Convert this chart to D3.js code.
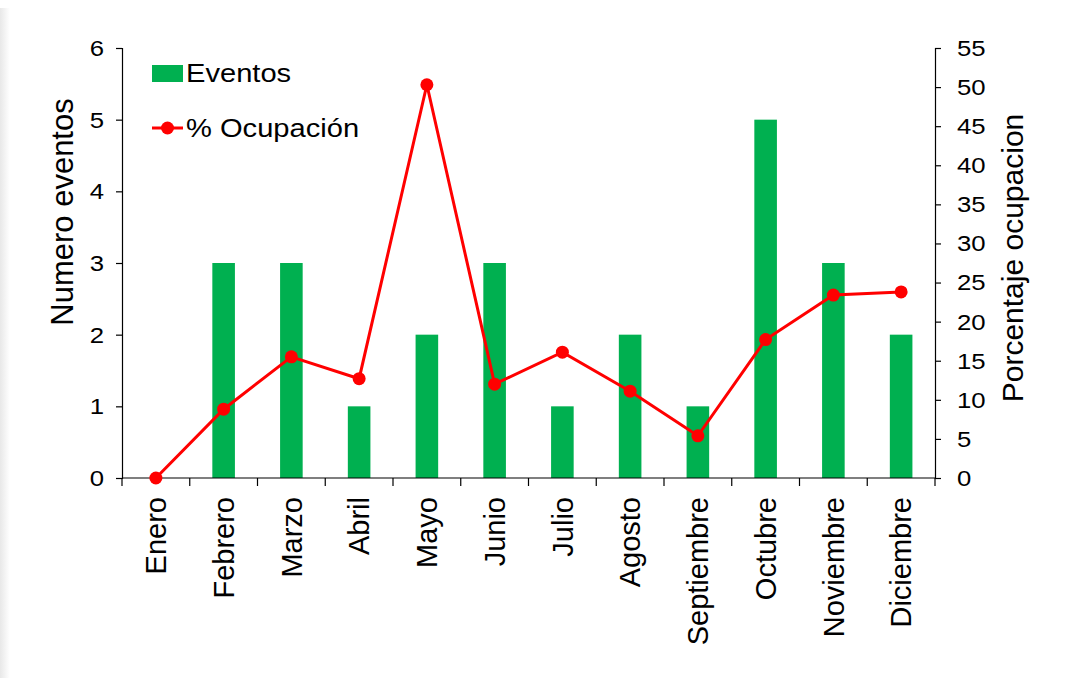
<!DOCTYPE html>
<html>
<head>
<meta charset="utf-8">
<script src="https://cdn.jsdelivr.net/npm/d3@7"></script>
<style>
  body { margin: 0; background: #fff; }
  svg { display: block; font-family: "Liberation Sans", Arial, sans-serif; }
</style>
</head>
<body>
<svg id="chart"></svg>
<script>
// data
var months = ['Enero', 'Febrero', 'Marzo', 'Abril', 'Mayo', 'Junio', 'Julio',
    'Agosto', 'Septiembre', 'Octubre', 'Noviembre', 'Diciembre'];
var eventos = [0, 3, 3, 1, 2, 3, 1, 2, 1, 5, 3, 2];
var ocupacion = [0, 8.8, 15.5, 12.7, 50.3, 12.0, 16.1, 11.1, 5.4, 17.7, 23.4, 23.8];
var leftTicks = [0, 1, 2, 3, 4, 5, 6];
var rightTicks = [0, 5, 10, 15, 20, 25, 30, 35, 40, 45, 50, 55];

var chart = {
    width: 1073,
    height: 678,
    margin: {top: 48, right: 138, bottom: 200, left: 122},
    color_bar: '#00b050',
    color_line: '#ff0000',
    tick_font: 23,
    stretch: 1.12,   // horizontal text in the original looks a bit wide

    draw: function() {
        var self = this;
        var svg = d3.select('#chart')
            .attr('width', this.width)
            .attr('height', this.height);

        // faint shadow on the left edge
        var grad = svg.append('defs').append('linearGradient')
            .attr('id', 'shade').attr('x1', 0).attr('x2', 1);
        grad.append('stop').attr('offset', 0).attr('stop-color', '#e8e8e8');
        grad.append('stop').attr('offset', 1).attr('stop-color', '#ffffff');
        svg.append('rect')
            .attr('x', 0).attr('y', 8)
            .attr('width', 10).attr('height', this.height - 8)
            .attr('fill', 'url(#shade)');

        var m = this.margin;
        var x0 = m.left, x1 = this.width - m.right;
        var y0 = this.height - m.bottom, y1 = m.top;

        var x = d3.scaleBand().domain(months).range([x0, x1]);
        var yL = d3.scaleLinear().domain([0, 6]).range([y0, y1]);
        var yR = d3.scaleLinear().domain([0, 55]).range([y0, y1]);

        // bars
        var bw = x.bandwidth() / 3;
        svg.append('g').selectAll('rect')
            .data(months)
            .join('rect')
            .attr('x', function(d) { return x(d) + x.bandwidth() / 2 - bw / 2; })
            .attr('y', function(d, i) { return yL(eventos[i]); })
            .attr('width', bw)
            .attr('height', function(d, i) { return y0 - yL(eventos[i]); })
            .attr('fill', this.color_bar);

        // axes
        var gL = svg.append('g')
            .attr('transform', 'translate(' + x0 + ',0)')
            .call(d3.axisLeft(yL).tickValues(leftTicks).tickFormat(d3.format('d'))
                .tickSize(6).tickSizeOuter(6).tickPadding(0));
        var gR = svg.append('g')
            .attr('transform', 'translate(' + x1 + ',0)')
            .call(d3.axisRight(yR).tickValues(rightTicks).tickFormat(d3.format('d'))
                .tickSize(6).tickSizeOuter(6).tickPadding(0));

        gL.selectAll('.tick text')
            .attr('x', null)
            .attr('transform', 'translate(-18,0) scale(' + this.stretch + ',1)');
        gR.selectAll('.tick text')
            .attr('x', null)
            .attr('transform', 'translate(22,0) scale(' + this.stretch + ',1)');

        [gL, gR].forEach(function(g) {
            g.selectAll('text').attr('font-size', self.tick_font).attr('fill', '#000')
                .attr('font-family', '"Liberation Sans", Arial, sans-serif');
            g.selectAll('path, line').attr('stroke', '#000').attr('stroke-width', 1.2);
        });

        // bottom axis: ticks at band boundaries
        var gB = svg.append('g');
        gB.append('line')
            .attr('x1', x0).attr('x2', x1)
            .attr('y1', y0).attr('y2', y0)
            .attr('stroke', '#000').attr('stroke-width', 1.2);
        var bounds = months.map(function(d) { return x(d); }).concat([x1]);
        gB.selectAll('line.tk')
            .data(bounds)
            .join('line')
            .attr('class', 'tk')
            .attr('x1', function(d) { return d; }).attr('x2', function(d) { return d; })
            .attr('y1', y0).attr('y2', y0 + 8)
            .attr('stroke', '#000').attr('stroke-width', 1.2);
        gB.selectAll('text')
            .data(months)
            .join('text')
            .attr('transform', function(d) {
                return 'translate(' + (x(d) + x.bandwidth() / 2) + ',' + (y0 + 19) + ') rotate(-90)';
            })
            .attr('text-anchor', 'end')
            .attr('dy', '0.35em')
            .attr('font-size', 29)
            .attr('fill', '#000')
            .text(function(d) { return d; });

        // line series
        var line = d3.line()
            .x(function(d, i) { return x(months[i]) + x.bandwidth() / 2; })
            .y(function(d) { return yR(d); });
        svg.append('path')
            .datum(ocupacion)
            .attr('d', line)
            .attr('fill', 'none')
            .attr('stroke', this.color_line)
            .attr('stroke-width', 3);
        svg.append('g').selectAll('circle')
            .data(ocupacion)
            .join('circle')
            .attr('cx', function(d, i) { return x(months[i]) + x.bandwidth() / 2; })
            .attr('cy', function(d) { return yR(d); })
            .attr('r', 6.5)
            .attr('fill', this.color_line);

        // axis titles
        svg.append('text')
            .attr('transform', 'translate(62,212) rotate(-90)')
            .attr('text-anchor', 'middle')
            .attr('dy', '0.35em')
            .attr('font-size', 31)
            .text('Numero eventos');
        svg.append('text')
            .attr('transform', 'translate(1012,258) rotate(-90)')
            .attr('text-anchor', 'middle')
            .attr('dy', '0.35em')
            .attr('font-size', 30)
            .text('Porcentaje ocupacion');

        // legend
        var lg = svg.append('g').attr('transform', 'translate(152,0)');
        lg.append('rect')
            .attr('x', 0).attr('y', 65)
            .attr('width', 31).attr('height', 17)
            .attr('fill', this.color_bar);
        lg.append('text')
            .attr('transform', 'translate(34,82) scale(' + this.stretch + ',1)')
            .attr('font-size', 26)
            .text('Eventos');
        lg.append('line')
            .attr('x1', 0).attr('x2', 31)
            .attr('y1', 128).attr('y2', 128)
            .attr('stroke', this.color_line).attr('stroke-width', 3);
        lg.append('circle')
            .attr('cx', 15.5).attr('cy', 128).attr('r', 6.5)
            .attr('fill', this.color_line);
        lg.append('text')
            .attr('transform', 'translate(34,137) scale(' + this.stretch + ',1)')
            .attr('font-size', 26)
            .text('% Ocupación');
    }
};

chart.draw();
</script>
</body>
</html>
